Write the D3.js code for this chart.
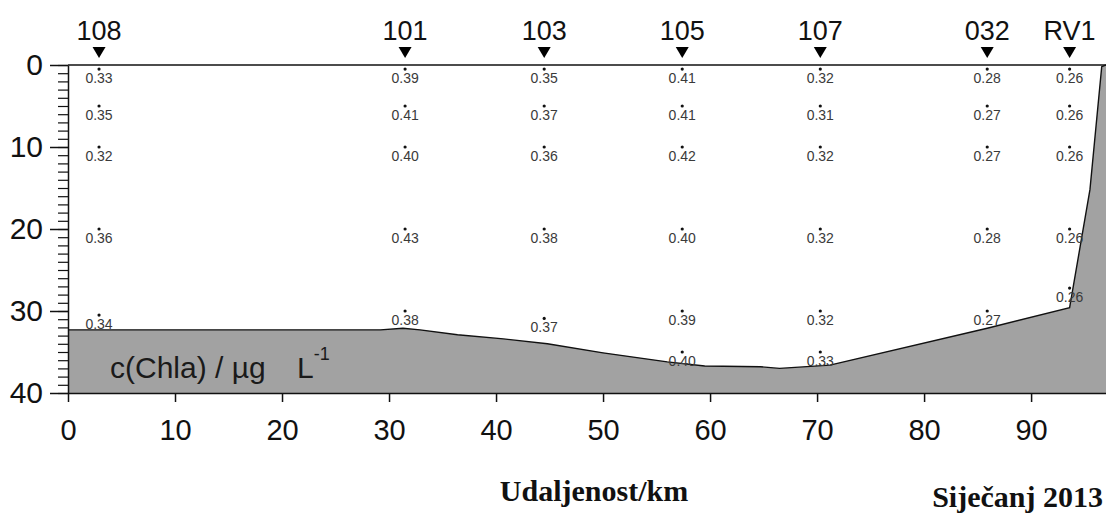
<!DOCTYPE html>
<html>
<head>
<meta charset="utf-8">
<script src="https://cdn.jsdelivr.net/npm/d3@7"></script>
<style>
  html, body { margin: 0; padding: 0; background: #fff; }
  svg { display: block; }
</style>
</head>
<body>
<svg id="chart" width="1106" height="514"></svg>
<script>
// ---- data ----
const stations = ["108", "101", "103", "105", "107", "032", "RV1"];
const stationKm = [2.9, 31.5, 44.5, 57.4, 70.3, 85.9, 93.6];
const sampleDepths = [
  [0.5, 5, 10, 20, 30.5],
  [0.5, 5, 10, 20, 30],
  [0.5, 5, 10, 20, 30.9],
  [0.5, 5, 10, 20, 30, 35],
  [0.5, 5, 10, 20, 30, 35],
  [0.5, 5, 10, 20, 30],
  [0.5, 5, 10, 20, 27.2]
];
const chlaValues = [
  ["0.33", "0.35", "0.32", "0.36", "0.34"],
  ["0.39", "0.41", "0.40", "0.43", "0.38"],
  ["0.35", "0.37", "0.36", "0.38", "0.37"],
  ["0.41", "0.41", "0.42", "0.40", "0.39", "0.40"],
  ["0.32", "0.31", "0.32", "0.32", "0.32", "0.33"],
  ["0.28", "0.27", "0.27", "0.28", "0.27"],
  ["0.26", "0.26", "0.26", "0.26", "0.26"]
];
const bottomKm =    [0,    29.2, 31.3, 32.9, 36.4, 40.7, 44.8, 50.0, 56.0, 59.5, 64.7, 66.5, 71.2, 85.9, 93.6, 95.5, 96.6, 97];
const bottomDepth = [32.3, 32.3, 32.1, 32.3, 32.9, 33.4, 34.0, 35.1, 36.2, 36.7, 36.8, 37.0, 36.6, 32.1, 29.6, 15.2, 0.2, 0];
const xTicks = [0, 10, 20, 30, 40, 50, 60, 70, 80, 90];
const yTicks = [0, 10, 20, 30, 40];
const yMinorTicks = d3.range(0, 41, 1);

// ---- scales ----
const svg = d3.select("#chart");
const x = d3.scaleLinear().domain([0, 97]).range([68, 1106]);
const y = d3.scaleLinear().domain([0, 40]).range([65, 393]);

// ---- data labels and points ----
const pts = [];
stations.forEach((s, i) => {
  sampleDepths[i].forEach((d, j) => pts.push({ km: stationKm[i], depth: d, v: chlaValues[i][j] }));
});

// bottom (gray) area
const area = d3.area()
  .x((d, i) => x(bottomKm[i]))
  .y0(y(40))
  .y1((d, i) => y(bottomDepth[i]));
const line = d3.line()
  .x((d, i) => x(bottomKm[i]))
  .y((d, i) => y(bottomDepth[i]));

svg.append("path")
  .datum(bottomKm)
  .attr("d", area)
  .attr("fill", "#a2a2a2")
  .attr("stroke", "none");

svg.append("path")
  .datum(bottomKm)
  .attr("d", line)
  .attr("fill", "none")
  .attr("stroke", "#111")
  .attr("stroke-width", 1.4);

svg.append("g").selectAll("circle")
  .data(pts).join("circle")
  .attr("cx", d => x(d.km))
  .attr("cy", d => y(d.depth))
  .attr("r", 1.6)
  .attr("fill", "#111");

svg.append("g").selectAll("text")
  .data(pts).join("text")
  .attr("x", d => x(d.km))
  .attr("y", d => y(d.depth) + 14)
  .attr("text-anchor", "middle")
  .attr("font-family", "Liberation Sans, Arial, sans-serif")
  .attr("font-size", 14)
  .attr("fill", "#3a3a3a")
  .text(d => d.v);

// ---- axes ----
const yMinor = d3.axisLeft(y).tickValues(yMinorTicks).tickSize(10).tickSizeOuter(0).tickFormat("");
svg.append("g").attr("transform", `translate(${x(0)},0)`).call(yMinor)
  .call(g => g.select(".domain").remove())
  .call(g => g.selectAll("line").attr("stroke", "#111").attr("stroke-width", 1.2));

const yAxis = d3.axisLeft(y).tickValues(yTicks).tickSize(18).tickSizeOuter(0).tickPadding(7);
svg.append("g").attr("transform", `translate(${x(0)},0)`).call(yAxis)
  .call(g => g.select(".domain").attr("stroke", "#111").attr("stroke-width", 1.5))
  .call(g => g.selectAll("line").attr("stroke", "#111").attr("stroke-width", 1.5))
  .call(g => g.selectAll("text")
    .attr("font-family", "Liberation Sans, Arial, sans-serif")
    .attr("font-size", 30)
    .attr("fill", "#111"));

const xAxis = d3.axisBottom(x).tickValues(xTicks).tickSize(9).tickSizeOuter(0).tickPadding(17);
svg.append("g").attr("transform", `translate(0,${y(40)})`).call(xAxis)
  .call(g => g.select(".domain").attr("stroke", "#111").attr("stroke-width", 1.5))
  .call(g => g.selectAll("line").attr("stroke", "#111").attr("stroke-width", 1.5))
  .call(g => g.selectAll("text")
    .attr("font-family", "Liberation Sans, Arial, sans-serif")
    .attr("font-size", 29)
    .attr("fill", "#111"));

// top border line at depth 0
svg.append("line")
  .attr("x1", x(0)).attr("x2", x(97))
  .attr("y1", y(0)).attr("y2", y(0))
  .attr("stroke", "#111").attr("stroke-width", 1.5);

// ---- stations ----
const st = svg.append("g").selectAll("g")
  .data(stations).join("g")
  .attr("transform", (d, i) => `translate(${x(stationKm[i])},0)`);
st.append("path")
  .attr("d", "M-6.5,47 L6.5,47 L0,58 Z")
  .attr("fill", "#000");
st.append("text")
  .attr("y", 40)
  .attr("text-anchor", "middle")
  .attr("font-family", "Liberation Sans, Arial, sans-serif")
  .attr("font-size", 27)
  .attr("fill", "#111")
  .text(d => d);

// ---- in-plot label ----
const lab = svg.append("text")
  .attr("x", 110).attr("y", 378)
  .attr("font-family", "Liberation Sans, Arial, sans-serif")
  .attr("font-size", 30)
  .attr("fill", "#1a1a1a");
lab.append("tspan").text("c(Chla) / µg");
lab.append("tspan").attr("x", 297).text("L");
lab.append("tspan").attr("dy", -18).attr("font-size", 18).text("-1");

// ---- titles ----
svg.append("text")
  .attr("x", 594).attr("y", 501)
  .attr("text-anchor", "middle")
  .attr("font-family", "Liberation Serif, Times New Roman, serif")
  .attr("font-weight", "bold")
  .attr("font-size", 30)
  .attr("fill", "#111")
  .text("Udaljenost/km");

svg.append("text")
  .attr("x", 1103).attr("y", 507)
  .attr("text-anchor", "end")
  .attr("font-family", "Liberation Serif, Times New Roman, serif")
  .attr("font-weight", "bold")
  .attr("font-size", 30)
  .attr("fill", "#111")
  .text("Siječanj 2013");
</script>
</body>
</html>
